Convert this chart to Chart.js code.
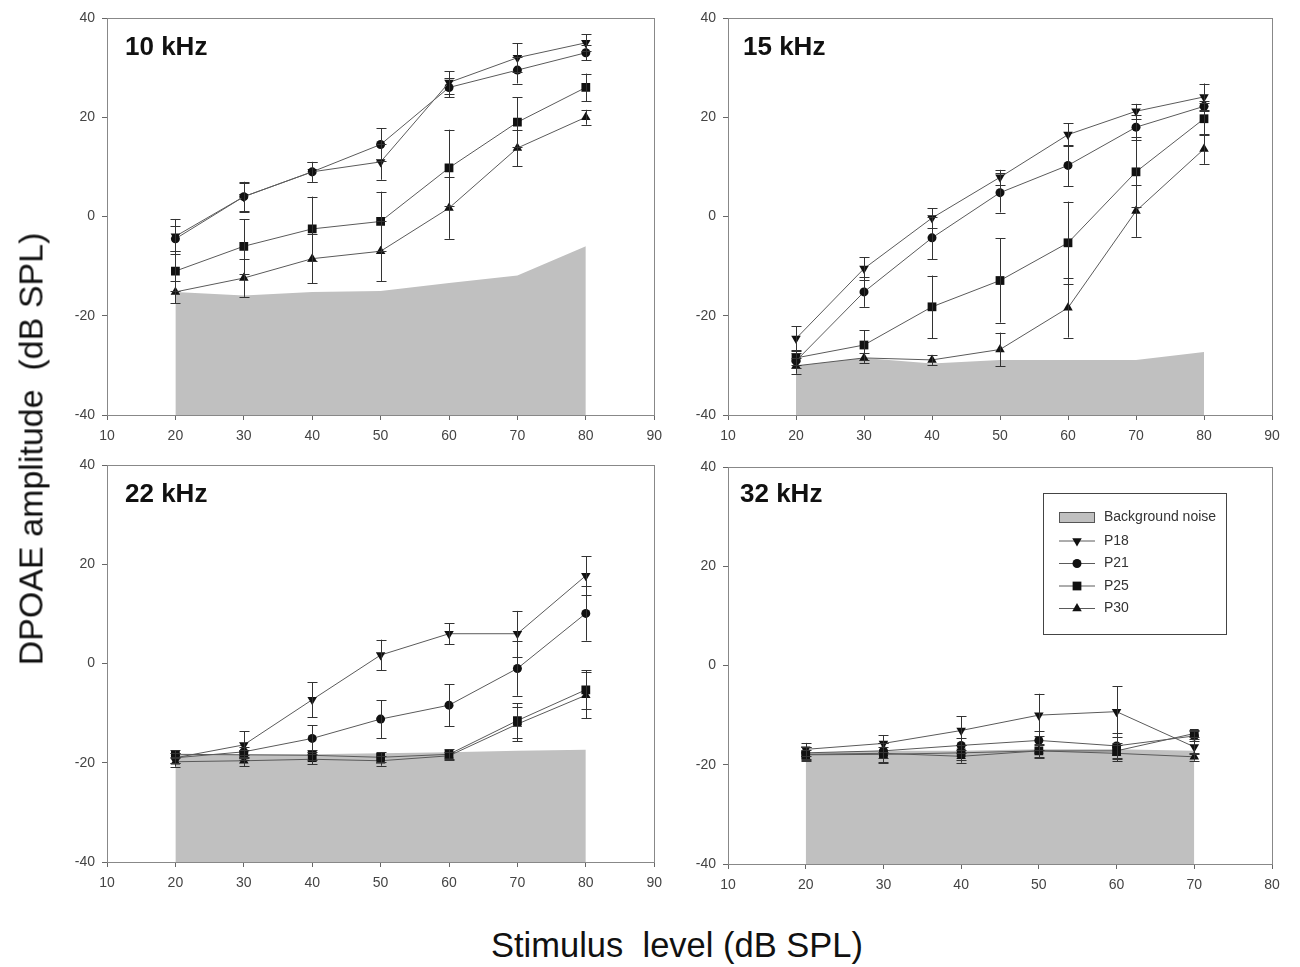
<!DOCTYPE html>
<html>
<head>
<meta charset="utf-8">
<script src="https://cdn.jsdelivr.net/npm/chart.js@4.4.1/dist/chart.umd.min.js"></script>
<style>
  body { margin: 0; background: #fff; width: 1300px; height: 967px; position: relative; overflow: hidden;
         font-family: 'Liberation Sans', Arial, sans-serif; }
  .panel { position: absolute; width: 620px; height: 450px; }
  .ptitle { position: absolute; font-weight: bold; font-size: 26px; color: #111; }
  #ytitle { position: absolute; left: 31px; top: 449px; font-size: 34px; color: #111; white-space: pre;
            transform: translate(-50%, -50%) rotate(-90deg); }
  #xtitle { position: absolute; left: 677px; top: 945px; font-size: 34.5px; color: #111; white-space: pre;
            transform: translate(-50%, -50%); }
</style>
</head>
<body>
<div class="panel" style="left:50px;top:0px"><canvas id="c10"></canvas></div>
<div class="panel" style="left:672px;top:0px"><canvas id="c15"></canvas></div>
<div class="panel" style="left:50px;top:447px"><canvas id="c22"></canvas></div>
<div class="panel" style="left:672px;top:449px"><canvas id="c32"></canvas></div>
<div class="ptitle" style="left:125px;top:31px">10 kHz</div>
<div class="ptitle" style="left:743px;top:31px">15 kHz</div>
<div class="ptitle" style="left:125px;top:478px">22 kHz</div>
<div class="ptitle" style="left:740px;top:478px">32 kHz</div>
<div id="ytitle">DPOAE amplitude  (dB SPL)</div>
<div id="xtitle">Stimulus  level (dB SPL)</div>
<script>
'use strict';

// stimulus levels (dB SPL)
var levels = [20, 30, 40, 50, 60, 70, 80];
var levels32 = [20, 30, 40, 50, 60, 70];

// 10 kHz
var p18_10 = [-4, 4, 9, 11, 27, 32, 35];
var p18_10err = [3.5, 3, 2, 3.6, 2.3, 2.9, 1.7];
var p21_10 = [-4.5, 4, 9, 14.5, 26, 29.5, 33];
var p21_10err = [2.5, 2.8, 2, 3.3, 2, 2.7, 1.5];
var p25_10 = [-11, -6, -2.5, -1, 9.8, 19, 26];
var p25_10err = [4, 5.5, 6.5, 6, 7.7, 5, 2.8];
var p30_10 = [-15.2, -12.4, -8.5, -7, 1.7, 13.8, 20];
var p30_10err = [2.3, 3.8, 5, 6, 6.2, 3.7, 1.5];
var noise_10 = [-15.2, -15.9, -15.2, -15, -13.4, -11.9, -6];

// 15 kHz
var p18_15 = [-24.6, -10.5, -0.3, 7.9, 16.5, 21.2, 24.1];
var p18_15err = [2.5, 2.3, 2, 1.5, 2.3, 1.5, 2.7];
var p21_15 = [-29.1, -15.2, -4.3, 4.8, 10.3, 18, 22.2];
var p21_15err = [1.5, 3, 4.3, 4, 4.2, 2.5, 1];
var p25_15 = [-28.5, -25.9, -18.2, -12.9, -5.3, 9, 19.7];
var p25_15err = [1.5, 3, 6.3, 8.5, 8.3, 7, 3.2];
var p30_15 = [-30.1, -28.5, -28.9, -26.8, -18.4, 1.1, 13.6];
var p30_15err = [1.6, 1, 1, 3.4, 6, 5.2, 3];
var noise_15 = [-30.1, -28.5, -29.6, -28.9, -28.9, -28.9, -27.3];

// 22 kHz
var p18_22 = [-19, -16.4, -7.3, 1.7, 6, 6, 17.7];
var p18_22err = [1, 2.7, 3.5, 3.1, 2.1, 4.6, 3.9];
var p21_22 = [-19, -17.8, -15.1, -11.2, -8.4, -1, 10.1];
var p21_22err = [1, 1, 2.7, 3.8, 4.2, 5.5, 5.5];
var p25_22 = [-18.3, -18.4, -18.5, -18.9, -18.3, -11.5, -5.3];
var p25_22err = [0.8, 1, 1, 1, 1, 3.5, 3.9];
var p30_22 = [-19.8, -19.6, -19.3, -19.6, -18.6, -12.2, -6.4];
var p30_22err = [1, 1.1, 1, 1, 0.8, 3.5, 4.6];
var noise_22 = [-18.5, -18.3, -18.3, -18.1, -17.9, -17.6, -17.4];

// 32 kHz
var p18_32 = [-16.9, -15.7, -13.1, -10, -9.3, -16.4];
var p18_32err = [1.3, 1.7, 2.9, 4.3, 5.1, 1.5];
var p21_32 = [-17.6, -17.2, -16.1, -15.1, -16.2, -14.2];
var p21_32err = [1.2, 1.5, 1.5, 2, 2.6, 1];
var p25_32 = [-18, -17.9, -17.6, -17.2, -17.2, -13.7];
var p25_32err = [1, 1.5, 1.5, 1.2, 1.5, 0.8];
var p30_32 = [-17.9, -17.7, -18.3, -17.2, -17.7, -18.4];
var p30_32err = [1.4, 2, 1.3, 1.4, 1.6, 0.8];
var noise_32 = [-17.6, -17.2, -17.2, -16.9, -16.9, -17.2];

var seriesNames = ['P18', 'P21', 'P25', 'P30'];
var yTicks = [-40, -20, 0, 20, 40];

var lineColor = '#5a5a5a';
var markColor = '#111111';
var noiseColor = '#c0c0c0';
var tickFont = {family: "'Liberation Sans', Arial", size: 14};

var markerStyles = [
  {pointStyle: 'triangle', rotation: 180, radius: 5.5},
  {pointStyle: 'circle', rotation: 0, radius: 4.5},
  {pointStyle: 'rect', rotation: 0, radius: 6.2},
  {pointStyle: 'triangle', rotation: 0, radius: 5.5}
];

function makeSeries(i, xs, vals, errs){
  var m = markerStyles[i];
  return {
    label: seriesNames[i],
    data: xs.map(function(x, k){ return {x: x, y: vals[k], e: errs[k]}; }),
    borderColor: lineColor,
    borderWidth: 1,
    backgroundColor: markColor,
    pointBackgroundColor: markColor,
    pointBorderColor: markColor,
    pointBorderWidth: 0,
    pointStyle: m.pointStyle,
    pointRotation: m.rotation,
    pointRadius: m.radius,
    tension: 0,
    fill: false,
    errorBars: true
  };
}

function makeNoise(xs, vals){
  return {
    label: 'Background noise',
    data: xs.map(function(x, k){ return {x: x, y: vals[k]}; }),
    borderWidth: 0,
    borderColor: noiseColor,
    backgroundColor: noiseColor,
    pointRadius: 0,
    fill: 'start',
    tension: 0
  };
}

// draws the box frame and the error bars
var framePlugin = {
  id: 'frame',
  afterDatasetsDraw: function(chart){
    var ctx = chart.ctx;
    var area = chart.chartArea;
    var xs = chart.scales.x;
    var ys = chart.scales.y;
    ctx.save();
    ctx.strokeStyle = '#333333';
    ctx.lineWidth = 1;
    chart.data.datasets.forEach(function(ds){
      if(!ds.errorBars) return;
      ds.data.forEach(function(pt){
        var px = Math.round(xs.getPixelForValue(pt.x)) + 0.5;
        var top = ys.getPixelForValue(pt.y + pt.e);
        var bot = ys.getPixelForValue(pt.y - pt.e);
        ctx.beginPath();
        ctx.moveTo(px, top); ctx.lineTo(px, bot);
        ctx.moveTo(px - 5, Math.round(top) + 0.5); ctx.lineTo(px + 5, Math.round(top) + 0.5);
        ctx.moveTo(px - 5, Math.round(bot) + 0.5); ctx.lineTo(px + 5, Math.round(bot) + 0.5);
        ctx.stroke();
      });
    });
    ctx.strokeStyle = '#888888';
    ctx.strokeRect(Math.round(area.left) + 0.5, Math.round(area.top) + 0.5,
      Math.round(area.right - area.left), Math.round(area.bottom - area.top));
    ctx.restore();
  }
};

// legend box drawn inside the 32 kHz panel
var legendPlugin = {
  id: 'boxLegend',
  afterDraw: function(chart){
    var opts = chart.options.plugins.boxLegend;
    if(!opts || !opts.show) return;
    var ctx = chart.ctx;
    ctx.save();
    ctx.strokeStyle = '#444444';
    ctx.lineWidth = 1;
    ctx.strokeRect(371.5, 44.5, 183, 141);
    ctx.fillStyle = noiseColor;
    ctx.fillRect(387, 63, 36, 11);
    ctx.strokeStyle = '#555555';
    ctx.strokeRect(387.5, 63.5, 35, 10);
    ctx.font = "14px 'Liberation Sans', Arial";
    ctx.fillStyle = '#333333';
    ctx.textBaseline = 'middle';
    ctx.fillText('Background noise', 432, 68);
    for (var i = 0; i < seriesNames.length; i++) {
      var y = 92 + i * 22.5;
      ctx.strokeStyle = lineColor;
      ctx.beginPath();
      ctx.moveTo(387, y); ctx.lineTo(423, y);
      ctx.stroke();
      ctx.fillStyle = markColor;
      ctx.strokeStyle = markColor;
      Chart.helpers.drawPoint(ctx, {
        pointStyle: markerStyles[i].pointStyle,
        rotation: markerStyles[i].rotation,
        radius: markerStyles[i].radius,
        borderWidth: 0
      }, 405, y);
      ctx.fillStyle = '#333333';
      ctx.fillText(seriesNames[i], 432, y);
    }
    ctx.restore();
  }
};

function makeChart(id, xs, sets, noise, xMax, yWidth, padRight, showLegend){
  var datasets = [];
  for (var i = 0; i < sets.length; i++) {
    datasets.push(makeSeries(i, xs, sets[i][0], sets[i][1]));
  }
  datasets.push(makeNoise(xs, noise));
  var canvas = document.getElementById(id);
  return new Chart(canvas.getContext('2d'), {
    type: 'line',
    data: {datasets: datasets},
    options: {
      responsive: false,
      animation: false,
      devicePixelRatio: 1,
      layout: {padding: {top: 18, right: padRight, left: 0, bottom: 0}},
      plugins: {
        legend: {display: false},
        tooltip: {enabled: false},
        boxLegend: {show: showLegend}
      },
      scales: {
        x: {
          type: 'linear',
          min: 10,
          max: xMax,
          ticks: {stepSize: 10, color: '#444', font: tickFont, padding: 8, maxRotation: 0},
          grid: {display: true, drawOnChartArea: false, drawTicks: true, tickLength: 5, color: '#666'},
          border: {display: true, color: '#666'},
          afterFit: function(scale){ scale.height = 35; }
        },
        y: {
          type: 'linear',
          min: yTicks[0],
          max: yTicks[yTicks.length - 1],
          afterBuildTicks: function(scale){
            scale.ticks = yTicks.map(function(v){ return {value: v}; });
          },
          ticks: {color: '#444', font: tickFont, padding: 7},
          grid: {display: true, drawOnChartArea: false, drawTicks: true, tickLength: 5, color: '#666'},
          border: {display: true, color: '#666'},
          afterFit: function(scale){ scale.width = yWidth; }
        }
      }
    },
    plugins: [framePlugin, legendPlugin]
  });
}

function sizeCanvas(id){
  var c = document.getElementById(id);
  c.width = 620; c.height = 450;
  c.style.width = '620px'; c.style.height = '450px';
}
['c10', 'c15', 'c22', 'c32'].forEach(sizeCanvas);

makeChart('c10', levels,
  [[p18_10, p18_10err], [p21_10, p21_10err], [p25_10, p25_10err], [p30_10, p30_10err]],
  noise_10, 90, 57, 15, false);
makeChart('c15', levels,
  [[p18_15, p18_15err], [p21_15, p21_15err], [p25_15, p25_15err], [p30_15, p30_15err]],
  noise_15, 90, 56, 20, false);
makeChart('c22', levels,
  [[p18_22, p18_22err], [p21_22, p21_22err], [p25_22, p25_22err], [p30_22, p30_22err]],
  noise_22, 90, 57, 15, false);
makeChart('c32', levels32,
  [[p18_32, p18_32err], [p21_32, p21_32err], [p25_32, p25_32err], [p30_32, p30_32err]],
  noise_32, 80, 56, 20, true);
</script>
</body>
</html>
